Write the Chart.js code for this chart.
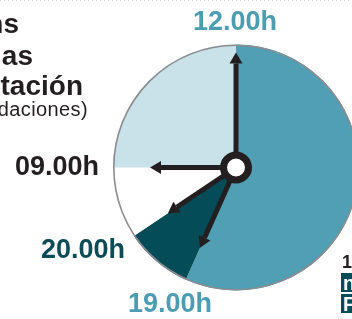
<!DOCTYPE html>
<html>
<head>
<meta charset="utf-8">
<script src="https://cdn.jsdelivr.net/npm/chart.js@4"></script>
<style>
    html, body { margin: 0; padding: 0; overflow: hidden; background: #fff; width: 352px; height: 319px; }
    canvas { display: block; }
</style>
</head>
<body>
<canvas id="clockChart" width="400" height="319"></canvas>
<script>
// Slices of the clock, clockwise from 12 o'clock (% of the circle)
const slots = ["12.00h - 19.00h", "19.00h - 20.00h", "20.00h - 09.00h", "09.00h - 12.00h"];
const shares = [56.7, 8.9, 9.4, 25];
const sliceColors = ["#519fb5", "#034c58", "#ffffff", "#c9e1e9"];

// Hand labels (one hand per slice start) and hand lengths
const handLabels = ["12.00h", "19.00h", "20.00h", "09.00h"];
const handLengths = [115, 88, 82, 86];

// Cut-off title on the left
const titleLines = ["ns", "as", "tación"];
const subTitle = "daciones)";

const FONT = "'Liberation Sans', Arial, sans-serif";
const INK = "#231f20";

// draws the rim, the hands, the hub and all texts
const clockPlugin = {
    id: "clock",
    afterDraw(chart) {
        const ctx = chart.ctx;
        const arcs = chart.getDatasetMeta(0).data;
        const cx = arcs[0].x;
        const cy = arcs[0].y;
        const r = arcs[0].outerRadius;

        ctx.save();

        // dotted rule at the very top
        ctx.strokeStyle = "#d6d6d6";
        ctx.lineWidth = 1;
        ctx.setLineDash([1, 3]);
        ctx.beginPath();
        ctx.moveTo(0, 0.5);
        ctx.lineTo(400, 0.5);
        ctx.stroke();
        ctx.setLineDash([]);

        // grey rim
        ctx.strokeStyle = "#8c8c8e";
        ctx.lineWidth = 1.6;
        ctx.beginPath();
        ctx.arc(cx, cy, r - 0.8, 0, Math.PI * 2);
        ctx.stroke();

        // hands, one at the start of every slice
        ctx.strokeStyle = INK;
        ctx.fillStyle = INK;
        arcs.forEach((arc, i) => {
            const a = arc.startAngle;
            const len = handLengths[i];
            const tx = cx + Math.cos(a) * len;
            const ty = cy + Math.sin(a) * len;
            const bx = cx + Math.cos(a) * (len - 11);
            const by = cy + Math.sin(a) * (len - 11);
            ctx.lineWidth = 5;
            ctx.beginPath();
            ctx.moveTo(cx, cy);
            ctx.lineTo(bx, by);
            ctx.stroke();
            const px = -Math.sin(a) * 6.5;
            const py = Math.cos(a) * 6.5;
            ctx.beginPath();
            ctx.moveTo(tx, ty);
            ctx.lineTo(bx + px, by + py);
            ctx.lineTo(bx - px, by - py);
            ctx.closePath();
            ctx.fill();
        });

        // hub
        ctx.lineWidth = 7;
        ctx.fillStyle = "#fff";
        ctx.beginPath();
        ctx.arc(cx, cy, 12.5, 0, Math.PI * 2);
        ctx.fill();
        ctx.stroke();

        // hour labels
        ctx.font = "bold 27px " + FONT;
        ctx.textBaseline = "middle";
        ctx.textAlign = "center";
        ctx.fillStyle = "#4a9db3";
        ctx.fillText(handLabels[0], cx - 1, 23);
        ctx.fillText(handLabels[1], 170, 305);
        ctx.fillStyle = "#0b4c57";
        ctx.fillText(handLabels[2], 83, 251);
        ctx.fillStyle = INK;
        ctx.fillText(handLabels[3], 57, 168);

        // title, cut by the left edge
        ctx.textAlign = "right";
        ctx.textBaseline = "alphabetic";
        ctx.font = "bold 28px " + FONT;
        ctx.fillText(titleLines[0], 19, 33);
        ctx.fillText(titleLines[1], 33, 65);
        ctx.fillText(titleLines[2], 83, 95);
        ctx.font = "20px " + FONT;
        ctx.letterSpacing = "0.4px";
        ctx.fillText(subTitle, 88, 116);
        ctx.letterSpacing = "0px";

        // cut-off logo at bottom right
        ctx.textAlign = "left";
        ctx.font = "bold 18px " + FONT;
        ctx.fillText("1", 342, 268);
        ctx.fillStyle = "#034c58";
        ctx.fillRect(341, 273, 20, 19);
        ctx.fillRect(341, 294, 20, 19);
        ctx.fillStyle = "#fff";
        ctx.font = "bold 20px " + FONT;
        ctx.fillText("n", 343, 290);
        ctx.fillText("F", 343, 311);

        ctx.restore();
    }
};

new Chart(document.getElementById("clockChart").getContext("2d"), {
    type: "pie",
    data: {
        labels: slots,
        datasets: [{
            data: shares,
            backgroundColor: sliceColors,
            borderWidth: 0
        }]
    },
    options: {
        responsive: false,
        devicePixelRatio: 1,
        animation: false,
        layout: {
            padding: { left: 113, right: 41, top: 44.5, bottom: 28.5 }
        },
        plugins: {
            legend: { display: false },
            tooltip: { enabled: false }
        }
    },
    plugins: [clockPlugin]
});
</script>
</body>
</html>
